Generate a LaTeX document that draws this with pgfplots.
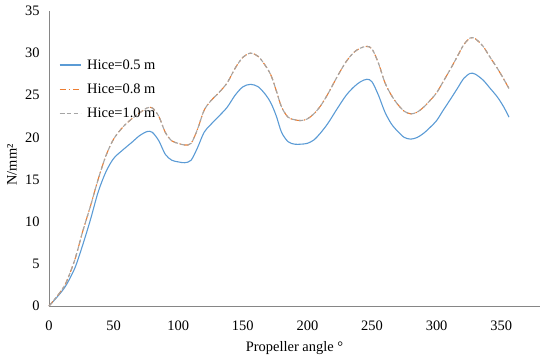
\documentclass[border=0pt]{standalone}
\usepackage{fontspec}
\setmainfont{Liberation Serif}
\usepackage{pgfplots}
\pgfplotsset{compat=1.18}
\definecolor{cblue}{HTML}{5B9BD5}
\definecolor{corange}{HTML}{ED7D31}
\definecolor{cgrey}{HTML}{A5A5A5}
\definecolor{caxis}{HTML}{868686}
\begin{document}
\begin{tikzpicture}
\useasboundingbox (-49bp,-57bp) rectangle (501bp,306bp);
\begin{axis}[
  at={(0,0)}, anchor=south west,
  scale only axis, width=491bp, height=295bp,
  xmin=0, xmax=380, ymin=0, ymax=35,
  xtick={0,50,...,350}, ytick={0,5,...,35},
  axis lines=left,
  axis line style={-, caxis, line width=0.9bp},
  major tick length=0pt,
  /pgf/number format/assume math mode=true,
  tick label style={font=\fontsize{14.5}{17}\selectfont, text=black},
  yticklabel style={xshift=-6bp},
  xticklabel style={yshift=-11bp},
  xlabel={Propeller angle °},
  ylabel={N/mm²},
  every axis x label/.style={at={(axis description cs:0.5,-0.1424)}, anchor=center, font=\fontsize{14.5}{17}\selectfont},
  every axis y label/.style={at={(axis description cs:-0.0754,0.478)}, anchor=center, rotate=90, font=\fontsize{14.5}{17}\selectfont},
  legend style={at={(rel axis cs:0.016,0.85)}, anchor=north west, draw=none, fill=none,
    font=\fontsize{14.5}{17}\selectfont, row sep=9bp, inner sep=2bp,
    /tikz/every odd column/.append style={column sep=4bp}},
  legend cell align=left,
  legend image code/.code={\draw[mark repeat=2,mark phase=2,#1] plot coordinates {(0bp,0bp) (10.5bp,0bp) (21bp,0bp)};},
  clip=false,
]
\addplot[draw=cblue, line width=1.1bp, smooth] coordinates {
(0,0) (7,1.2) (13,2.4) (20,4.5) (26,7.2) (32,10.2) (38,13.5) (44,15.9) (50,17.5)
(57,18.5) (64,19.4) (70,20.2) (76,20.7) (80,20.6) (85,19.6) (90,18.0) (95,17.3)
(100,17.1) (105,17.0) (110,17.3) (115,18.8) (120,20.6) (125,21.5) (132,22.6)
(138,23.6) (144,25.0) (150,26.0) (156,26.3) (162,26.0) (168,25.0) (172,24.0)
(176,22.5) (180,20.6) (185,19.5) (190,19.2) (195,19.2) (200,19.3) (205,19.7)
(210,20.5) (216,21.7) (223,23.4) (230,25.0) (236,26.0) (241,26.6) (246,26.9)
(250,26.6) (255,25.0) (260,23.0) (265,21.6) (270,20.7) (275,20.0) (280,19.8)
(285,20.0) (290,20.5) (295,21.2) (300,22.0) (305,23.2) (311,24.6) (316,25.8)
(321,27.0) (326,27.6) (330,27.5) (336,26.8) (341,25.9) (347,24.8) (352,23.6) (356,22.4)
};
\addlegendentry{Hice=0.5 m}
\addplot[draw=corange, line width=1.1bp, smooth, dash pattern=on 6bp off 3bp on 1.5bp off 3bp] coordinates {
(0,0) (7,1.3) (13,2.7) (20,5.5) (26,8.8) (32,11.8) (38,15.0) (44,17.8) (50,19.8)
(57,21.2) (64,22.2) (70,22.9) (76,23.5) (80,23.5) (85,22.5) (90,20.6) (95,19.6)
(100,19.3) (105,19.1) (110,19.3) (115,21.0) (120,23.2) (125,24.3) (132,25.4)
(138,26.5) (144,28.2) (150,29.5) (156,30.0) (162,29.6) (168,28.4) (172,27.3)
(176,25.5) (180,23.6) (185,22.4) (190,22.1) (195,22.0) (200,22.2) (205,22.8)
(210,23.7) (216,25.2) (223,27.2) (230,29.0) (236,30.1) (241,30.6) (246,30.8)
(250,30.5) (255,28.8) (260,26.5) (265,25.0) (270,23.9) (275,23.1) (280,22.8)
(285,23.0) (290,23.6) (295,24.4) (300,25.3) (305,26.6) (311,28.2) (316,29.6)
(321,31.0) (326,31.8) (330,31.7) (336,30.8) (341,29.6) (347,28.2) (352,26.9) (356,25.8)
};
\addlegendentry{Hice=0.8 m}
\addplot[draw=cgrey, line width=1.1bp, smooth, dash pattern=on 4.5bp off 2.5bp] coordinates {
(0,0) (7,1.3) (13,2.7) (20,5.5) (26,8.8) (32,11.8) (38,15.0) (44,17.8) (50,19.8)
(57,21.2) (64,22.2) (70,22.9) (76,23.5) (80,23.5) (85,22.5) (90,20.6) (95,19.6)
(100,19.3) (105,19.1) (110,19.3) (115,21.0) (120,23.2) (125,24.3) (132,25.4)
(138,26.5) (144,28.2) (150,29.5) (156,30.0) (162,29.6) (168,28.4) (172,27.3)
(176,25.5) (180,23.6) (185,22.4) (190,22.1) (195,22.0) (200,22.2) (205,22.8)
(210,23.7) (216,25.2) (223,27.2) (230,29.0) (236,30.1) (241,30.6) (246,30.8)
(250,30.5) (255,28.8) (260,26.5) (265,25.0) (270,23.9) (275,23.1) (280,22.8)
(285,23.0) (290,23.6) (295,24.4) (300,25.3) (305,26.6) (311,28.2) (316,29.6)
(321,31.0) (326,31.8) (330,31.7) (336,30.8) (341,29.6) (347,28.2) (352,26.9) (356,25.8)
};
\addlegendentry{Hice=1.0 m}
\end{axis}
\end{tikzpicture}
\end{document}
